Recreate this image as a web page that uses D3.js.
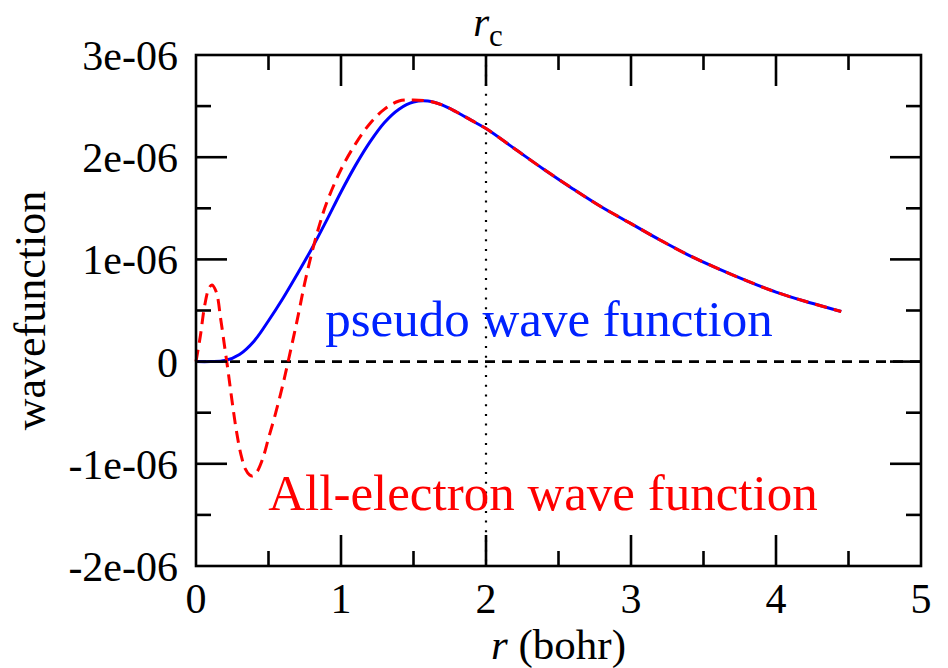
<!DOCTYPE html>
<html><head><meta charset="utf-8">
<script src="https://cdn.jsdelivr.net/npm/d3@7"></script>
<style>body{margin:0;background:#fff}svg{display:block}</style>
</head><body>
<script>
// Data (wavefunction values in units of 1e-06)
const rPseudo = [0,0.1,0.2,0.3,0.4,0.5,0.6,0.7,0.8,0.9,1.0,1.1,1.2,1.3,1.4,1.5,1.6,1.7,1.8,1.9,2.0,2.2,2.4,2.6,2.8,3.0,3.2,3.4,3.6,3.8,4.0,4.2,4.4,4.45];
const vPseudo = [0,0,0.01,0.07,0.2,0.4,0.62,0.86,1.11,1.38,1.66,1.92,2.15,2.34,2.47,2.54,2.55,2.51,2.44,2.36,2.28,2.08,1.88,1.69,1.51,1.35,1.19,1.04,0.91,0.79,0.68,0.59,0.51,0.49];
const rAE = [0,0.03,0.06,0.09,0.11,0.14,0.17,0.2,0.22,0.25,0.28,0.31,0.34,0.37,0.39,0.42,0.46,0.5,0.55,0.6,0.64,0.7,0.75,0.8,0.85,0.9,1.0,1.1,1.2,1.3,1.4,1.5,1.6,1.7,1.8,1.9,2.0,2.2,2.4,2.6,2.8,3.0,3.2,3.4,3.6,3.8,4.0,4.2,4.4,4.45];
const vAE = [0,0.25,0.55,0.72,0.75,0.68,0.42,0.12,-0.08,-0.4,-0.69,-0.91,-1.05,-1.11,-1.12,-1.08,-0.95,-0.75,-0.5,-0.22,0.03,0.42,0.77,1.07,1.33,1.55,1.88,2.13,2.33,2.47,2.55,2.56,2.55,2.51,2.44,2.36,2.28,2.08,1.88,1.69,1.51,1.35,1.19,1.04,0.91,0.79,0.68,0.59,0.51,0.49];
const xTicks = [0,1,2,3,4,5];
const yTicks = [3,2,1,0,-1,-2];
const yTickLabels = ["3e-06","2e-06","1e-06","0","-1e-06","-2e-06"];
const rc = 2;

const W = 948, H = 668;
const m = {left:196, right:27, top:55, bottom:102};
const svg = d3.select("body").append("svg").attr("width",W).attr("height",H);
const x = d3.scaleLinear().domain([0,5]).range([m.left, W-m.right]);
const y = d3.scaleLinear().domain([-2,3]).range([H-m.bottom, m.top]);
const font = "'Liberation Serif','Times New Roman',serif";

// zero dashed line
svg.append("line").attr("x1",x(0)).attr("x2",x(5)).attr("y1",y(0)).attr("y2",y(0))
  .attr("stroke","#000").attr("stroke-width",2.6).attr("stroke-dasharray","10,7");
// rc dotted line
svg.append("line").attr("x1",x(rc)).attr("x2",x(rc)).attr("y1",y(3)).attr("y2",y(-2))
  .attr("stroke","#000").attr("stroke-width",2.2).attr("stroke-dasharray","2,7.7");

const line = d3.line().x(d=>x(d[0])).y(d=>y(d[1])).curve(d3.curveCatmullRom.alpha(0.5));
svg.append("path").datum(rPseudo.map((r,i)=>[r,vPseudo[i]])).attr("d",line)
  .attr("fill","none").attr("stroke","#0000ff").attr("stroke-width",3);
svg.append("path").datum(rAE.map((r,i)=>[r,vAE[i]])).attr("d",line)
  .attr("fill","none").attr("stroke","#ff0000").attr("stroke-width",3).attr("stroke-dasharray","12,7");

// axes
const major = 31, minor = 15;
const xMinor = d3.range(0.5,5,1);
const yMinor = d3.range(-1.5,3,1);
const ax = svg.append("g").attr("stroke","#000").attr("stroke-width",2.6);
xTicks.slice(1,-1).forEach(t=>{
  ax.append("line").attr("x1",x(t)).attr("x2",x(t)).attr("y1",y(-2)).attr("y2",y(-2)-major);
  ax.append("line").attr("x1",x(t)).attr("x2",x(t)).attr("y1",y(3)).attr("y2",y(3)+major);
});
xMinor.forEach(t=>{
  ax.append("line").attr("x1",x(t)).attr("x2",x(t)).attr("y1",y(-2)).attr("y2",y(-2)-minor);
  ax.append("line").attr("x1",x(t)).attr("x2",x(t)).attr("y1",y(3)).attr("y2",y(3)+minor);
});
yTicks.slice(1,-1).forEach(t=>{
  ax.append("line").attr("x1",x(0)).attr("x2",x(0)+major).attr("y1",y(t)).attr("y2",y(t));
  ax.append("line").attr("x1",x(5)).attr("x2",x(5)-major).attr("y1",y(t)).attr("y2",y(t));
});
yMinor.forEach(t=>{
  ax.append("line").attr("x1",x(0)).attr("x2",x(0)+minor).attr("y1",y(t)).attr("y2",y(t));
  ax.append("line").attr("x1",x(5)).attr("x2",x(5)-minor).attr("y1",y(t)).attr("y2",y(t));
});
ax.append("rect").attr("x",x(0)).attr("y",y(3)).attr("width",x(5)-x(0)).attr("height",y(-2)-y(3)).attr("fill","none");

// tick labels
svg.selectAll(".xl").data(xTicks).enter().append("text")
  .attr("x",d=>x(d)).attr("y",y(-2)+47).attr("text-anchor","middle")
  .attr("font-family",font).attr("font-size",42).text(d=>d);
svg.selectAll(".yl").data(yTicks).enter().append("text")
  .attr("x",x(0)-18).attr("y",d=>y(d)+15).attr("text-anchor","end")
  .attr("font-family",font).attr("font-size",42).text((d,i)=>yTickLabels[i]);

// axis titles
const xt = svg.append("text").attr("x",x(0)+(x(5)-x(0))/2).attr("y",659).attr("text-anchor","middle")
  .attr("font-family",font).attr("font-size",43);
xt.append("tspan").attr("font-style","italic").text("r");
xt.append("tspan").text(" (bohr)");
svg.append("text").attr("transform",`translate(45,${y(0.5)}) rotate(-90)`).attr("text-anchor","middle")
  .attr("font-family",font).attr("font-size",44).text("wavefunction");

// rc label
const rt = svg.append("text").attr("x",x(rc)+2).attr("y",36).attr("text-anchor","middle").attr("font-family",font);
rt.append("tspan").attr("font-style","italic").attr("font-size",41).text("r");
rt.append("tspan").attr("font-size",31).attr("dy",10).text("c");

// curve labels
svg.append("text").attr("x",549).attr("y",336).attr("text-anchor","middle")
  .attr("font-family",font).attr("font-size",51).attr("fill","#0022ff").text("pseudo wave function");
svg.append("text").attr("x",543).attr("y",510).attr("text-anchor","middle")
  .attr("font-family",font).attr("font-size",51).attr("fill","#ff0000").text("All-electron wave function");
</script>
</body></html>
